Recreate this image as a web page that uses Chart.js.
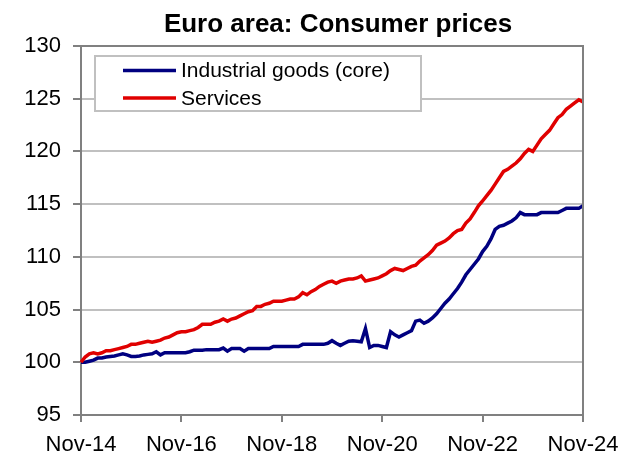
<!DOCTYPE html>
<html>
<head>
<meta charset="utf-8">
<script src="https://cdn.jsdelivr.net/npm/chart.js@4.4.1/dist/chart.umd.min.js"></script>
<style>
  html, body { margin: 0; padding: 0; background: #fff; }
  #wrap { width: 643px; height: 458px; position: relative; }
</style>
</head>
<body>
<div id="wrap"><canvas id="cpiChart"></canvas></div>
<script>
// Monthly index values, Nov-14 = 100 ... Nov-24
const titleText = 'Euro area: Consumer prices';
const monthNames = ['Jan', 'Feb', 'Mar', 'Apr', 'May', 'Jun', 'Jul', 'Aug', 'Sep', 'Oct', 'Nov', 'Dec'];
const tickLabels = ['Nov-14', 'Nov-16', 'Nov-18', 'Nov-20', 'Nov-22', 'Nov-24'];

const industrialGoods = [
  100.0, 100.0, 100.1, 100.2, 100.4, 100.4, 100.5, 100.55, 100.6, 100.7, 100.8, 100.7,
  100.55, 100.55, 100.6, 100.7, 100.75, 100.8, 101.0, 100.7, 100.9, 100.9, 100.9, 100.9,
  100.9, 100.9, 101.0, 101.15, 101.15, 101.15, 101.2, 101.2, 101.2, 101.2, 101.35, 101.05,
  101.3, 101.3, 101.3, 101.05, 101.3, 101.3, 101.3, 101.3, 101.3, 101.3, 101.5, 101.5,
  101.5, 101.5, 101.5, 101.5, 101.5, 101.7, 101.7, 101.7, 101.7, 101.7, 101.7, 101.8,
  102.05, 101.8, 101.6, 101.8, 102.0, 102.05, 102.0, 101.95, 103.2, 101.4, 101.6, 101.6,
  101.5, 101.4, 102.9, 102.6, 102.4, 102.6, 102.8, 103.0, 103.9, 104.0, 103.7, 103.9,
  104.2, 104.6, 105.1, 105.6, 106.0, 106.5, 107.0, 107.6, 108.3, 108.8, 109.3, 109.8,
  110.5, 111.0, 111.7, 112.6, 112.9, 113.0, 113.2, 113.4, 113.7, 114.2, 114.0, 114.0,
  114.0, 114.0, 114.2, 114.2, 114.2, 114.2, 114.2, 114.4, 114.6, 114.6, 114.6, 114.6,
  114.85
];

const services = [
  100.0, 100.5, 100.8, 100.9, 100.8, 100.9, 101.1, 101.1, 101.2, 101.3, 101.4, 101.5,
  101.7, 101.7, 101.8, 101.9, 102.0, 101.9, 102.0, 102.1, 102.3, 102.4, 102.6, 102.8,
  102.9, 102.9, 103.0, 103.1, 103.3, 103.6, 103.6, 103.6, 103.8, 103.9, 104.1, 103.9,
  104.1, 104.2, 104.4, 104.6, 104.8, 104.9, 105.3, 105.3, 105.5, 105.6, 105.8, 105.8,
  105.8, 105.9, 106.0, 106.0, 106.2, 106.6, 106.4, 106.7, 106.9, 107.2, 107.4, 107.6,
  107.7, 107.5, 107.7, 107.8, 107.9, 107.9, 108.0, 108.2, 107.7, 107.8, 107.9, 108.0,
  108.2, 108.4, 108.7, 108.9, 108.8, 108.7, 108.9, 109.1, 109.2, 109.6, 109.9, 110.2,
  110.6, 111.1, 111.3, 111.5, 111.8, 112.2, 112.5, 112.6, 113.2, 113.6, 114.2, 114.85,
  115.3, 115.8, 116.3, 116.9, 117.5, 118.1, 118.3, 118.6, 118.9, 119.3, 119.8, 120.2,
  120.0, 120.6, 121.2, 121.6, 122.0, 122.6, 123.2, 123.5, 124.0, 124.3, 124.6, 124.9,
  124.7
];

// Etiquetas mensuales a partir de Nov-14
const categories = [];
for (let i = 0; i < services.length; i++) {
  const m = (10 + i) % 12;
  const y = 14 + Math.floor((10 + i) / 12);
  categories.push(monthNames[m] + '-' + String(y).padStart(2, '0'));
}

const FONT = "'Liberation Sans', Arial, sans-serif";
const AXIS_GREY = '#808080';
const GRID_GREY = '#c0c0c0';

// Titulo, marco y leyenda dentro del area del grafico
const boxLegend = {
  id: 'boxLegend',
  afterDraw(chart) {
    const ctx = chart.ctx;
    const area = chart.chartArea;
    ctx.save();

    ctx.fillStyle = '#000';
    ctx.font = 'bold 26px ' + FONT;
    ctx.textAlign = 'center';
    ctx.textBaseline = 'alphabetic';
    ctx.fillText(titleText, 338, 32);

    // marco superior y derecho del area
    ctx.strokeStyle = AXIS_GREY;
    ctx.lineWidth = 2;
    ctx.beginPath();
    ctx.moveTo(area.left, area.top);
    ctx.lineTo(area.right, area.top);
    ctx.lineTo(area.right, area.bottom);
    ctx.stroke();

    const x0 = 95, y0 = 56, w = 326, h = 55;
    ctx.fillStyle = '#fff';
    ctx.fillRect(x0, y0, w, h);
    ctx.strokeStyle = GRID_GREY;
    ctx.strokeRect(x0, y0, w, h);

    ctx.font = '21px ' + FONT;
    ctx.textAlign = 'left';
    ctx.textBaseline = 'middle';
    const rows = [70.5, 98];
    chart.data.datasets.forEach((ds, i) => {
      ctx.strokeStyle = ds.borderColor;
      ctx.lineWidth = 3.5;
      ctx.beginPath();
      ctx.moveTo(123, rows[i]);
      ctx.lineTo(176, rows[i]);
      ctx.stroke();
      ctx.fillStyle = '#000';
      ctx.fillText(ds.label, 181, rows[i] + 1);
    });
    ctx.restore();
  }
};

new Chart(document.getElementById('cpiChart'), {
  type: 'line',
  data: {
    labels: categories,
    datasets: [
      {
        label: 'Industrial goods (core)',
        data: industrialGoods,
        borderColor: '#000080',
        borderWidth: 3.5,
        pointRadius: 0,
        tension: 0,
        order: 1
      },
      {
        label: 'Services',
        data: services,
        borderColor: '#e00000',
        borderWidth: 3.5,
        pointRadius: 0,
        tension: 0,
        order: 0
      }
    ]
  },
  options: {
    responsive: true,
    maintainAspectRatio: false,
    animation: false,
    layout: { padding: { left: 0, right: 60, top: 46, bottom: 0 } },
    plugins: {
      legend: { display: false },
      tooltip: { enabled: false },
      title: { display: false }
    },
    scales: {
      x: {
        type: 'category',
        offset: false,
        border: { color: AXIS_GREY, width: 2 },
        grid: { drawOnChartArea: false, tickLength: 7, color: AXIS_GREY, lineWidth: 2 },
        ticks: {
          autoSkip: false,
          maxRotation: 0,
          minRotation: 0,
          padding: 10,
          color: '#000',
          font: { family: FONT, size: 22 },
          // solo cada 24 meses
          callback: (value, index) => index % 24 === 0 ? tickLabels[index / 24] : null
        },
        afterFit: (scale) => { scale.height = 43; }
      },
      y: {
        min: 95,
        max: 130,
        border: { color: AXIS_GREY, width: 2 },
        grid: { color: GRID_GREY, lineWidth: 2, tickLength: 8, tickColor: AXIS_GREY },
        ticks: {
          stepSize: 5,
          padding: 12,
          color: '#000',
          font: { family: FONT, size: 22 }
        },
        afterFit: (scale) => { scale.width = 81; }
      }
    }
  },
  plugins: [boxLegend]
});
</script>
</body>
</html>
